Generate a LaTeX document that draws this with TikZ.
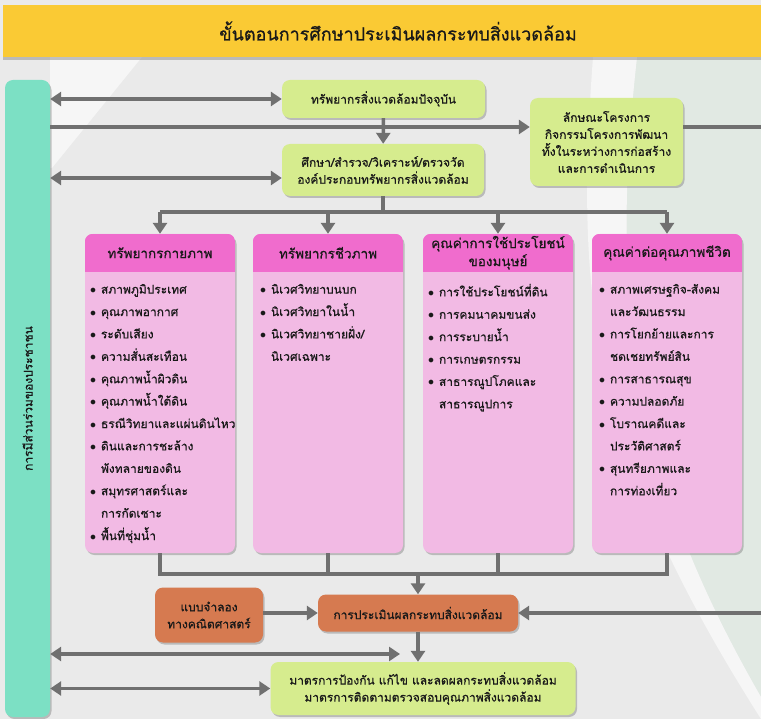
\documentclass[tikz,border=0pt]{standalone}
\usepackage{fontspec}
\setmainfont[Script=Thai,FakeBold=0.7]{Loma}
\usetikzlibrary{arrows.meta,shadows}

\definecolor{bggray}{RGB}{234,234,234}
\definecolor{bglight}{RGB}{246,246,246}
\definecolor{palemint}{RGB}{225,233,227}
\definecolor{titleyellow}{RGB}{250,202,52}
\definecolor{leafgreen}{RGB}{214,236,142}
\definecolor{clayorange}{RGB}{214,122,80}
\definecolor{headpink}{RGB}{240,108,205}
\definecolor{bodypink}{RGB}{242,186,228}
\definecolor{mint}{RGB}{124,224,196}
\definecolor{arrgray}{RGB}{112,112,112}
\definecolor{inkblack}{RGB}{25,25,25}

\newcommand{\bullt}{\makebox[11pt][l]{$\bullet$}}
\newcommand{\contd}{\hspace*{11pt}}

\begin{document}
\begin{tikzpicture}[x=1pt,y=-1pt,
  box/.style={rounded corners=8pt, align=center, text=inkblack, font=\fontsize{12}{17}\selectfont,
    drop shadow={shadow xshift=1.5pt,shadow yshift=-2pt,opacity=0.45}},
  greenbox/.style={box, fill=leafgreen},
  orangebox/.style={box, fill=clayorange},
  pinkbox/.style={box, fill=bodypink},
  ln/.style={draw=arrgray, line width=3.5pt},
  arr/.style={ln, -{Triangle[width=14pt,length=11pt]}},
  dbl/.style={ln, {Triangle[width=14pt,length=11pt]}-{Triangle[width=14pt,length=11pt]}},
  pinkhead/.style={font=\fontsize{13.5}{18}\selectfont, align=center, text=inkblack},
  list/.style={anchor=north west, inner sep=0pt, align=left, text=inkblack, font=\fontsize{12}{22.4}\selectfont}
]
\useasboundingbox (0,0) rectangle (761,719);
\fill[bggray] (0,0) rectangle (761,719);
\fill[bglight] (50,57) -- (142,57) -- (52,168) -- (50,168) -- cycle;
\fill[palemint] (637,57) .. controls (610,300) and (630,470) .. (761,697) -- (761,57) -- cycle;
\fill[bglight] (593,57) .. controls (575,300) and (590,450) .. (761,719) -- (761,697)
  .. controls (630,470) and (610,300) .. (637,57) -- cycle;

\node[fill=titleyellow, minimum width=758, minimum height=52,
  drop shadow={shadow xshift=0pt,shadow yshift=-3pt,opacity=0.45}] (titlebar) at (382,31) {};
\node[text=inkblack, font=\fontsize{18}{22}\selectfont] (title) at (398,31) {ขั้นตอนการศึกษาประเมินผลกระทบสิ่งแวดล้อม};

\node[box, fill=mint, minimum width=45, minimum height=637] (people) at (27.5,398.5) {};
\node[rotate=90, text=inkblack, font=\fontsize{12}{17}\selectfont] (peopleT) at (people.center) {การมีส่วนร่วมของประชาชน};

\node[greenbox, minimum width=203, minimum height=38] (res) at (383.5,99) {ทรัพยากรสิ่งแวดล้อมปัจจุบัน};
\node[greenbox, minimum width=202, minimum height=52] (study) at (383,170) {ศึกษา/สำรวจ/วิเคราะห์/ตรวจวัด\\องค์ประกอบทรัพยากรสิ่งแวดล้อม};
\node[greenbox, minimum width=153, minimum height=88] (proj) at (606.5,142) {ลักษณะโครงการ\\กิจกรรมโครงการพัฒนา\\ทั้งในระหว่างการก่อสร้าง\\และการดำเนินการ};

\node[pinkbox, minimum width=150, minimum height=319] (phys) at (160,393.5) {};
\node[pinkbox, minimum width=150, minimum height=319] (bio) at (328,393.5) {};
\node[pinkbox, minimum width=150, minimum height=319] (use) at (498,393.5) {};
\node[pinkbox, minimum width=150, minimum height=319] (qol) at (667,393.5) {};
\foreach \b in {phys,bio,use,qol}{
  \begin{scope}
    \clip[rounded corners=8pt] (\b.north west) rectangle (\b.south east);
    \fill[headpink] (\b.north west) rectangle ([yshift=-38pt]\b.north east);
  \end{scope}
}
\node[pinkhead] (physH) at ([yshift=-19pt]phys.north) {ทรัพยากรกายภาพ};
\node[pinkhead] (bioH) at ([yshift=-19pt]bio.north) {ทรัพยากรชีวภาพ};
\node[pinkhead] (useH) at ([yshift=-19pt]use.north) {คุณค่าการใช้ประโยชน์\\ของมนุษย์};
\node[pinkhead] (qolH) at ([yshift=-19pt]qol.north) {คุณค่าต่อคุณภาพชีวิต};

\node[list] (physL) at ([shift={(5pt,-50pt)}]phys.north west) {\bullt สภาพภูมิประเทศ\\ \bullt คุณภาพอากาศ\\ \bullt ระดับเสียง\\
  \bullt ความสั่นสะเทือน\\ \bullt คุณภาพน้ำผิวดิน\\ \bullt คุณภาพน้ำใต้ดิน\\ \bullt ธรณีวิทยาและแผ่นดินไหว\\
  \bullt ดินและการชะล้าง\\ \contd พังทลายของดิน\\ \bullt สมุทรศาสตร์และ\\ \contd การกัดเซาะ\\ \bullt พื้นที่ชุ่มน้ำ};
\node[list] (bioL) at ([shift={(7pt,-50pt)}]bio.north west) {\bullt นิเวศวิทยาบนบก\\ \bullt นิเวศวิทยาในน้ำ\\
  \bullt นิเวศวิทยาชายฝั่ง/\\ \contd นิเวศเฉพาะ};
\node[list] (useL) at ([shift={(5pt,-50pt)}]use.north west) {\bullt การใช้ประโยชน์ที่ดิน\\ \bullt การคมนาคมขนส่ง\\
  \bullt การระบายน้ำ\\ \bullt การเกษตรกรรม\\ \bullt สาธารณูปโภคและ\\ \contd สาธารณูปการ};
\node[list] (qolL) at ([shift={(7pt,-50pt)}]qol.north west) {\bullt สภาพเศรษฐกิจ-สังคม\\ \contd และวัฒนธรรม\\
  \bullt การโยกย้ายและการ\\ \contd ชดเชยทรัพย์สิน\\ \bullt การสาธารณสุข\\ \bullt ความปลอดภัย\\
  \bullt โบราณคดีและ\\ \contd ประวัติศาสตร์\\ \bullt สุนทรียภาพและ\\ \contd การท่องเที่ยว};

\node[orangebox, minimum width=108, minimum height=55] (model) at (209,615) {แบบจำลอง\\ทางคณิตศาสตร์};
\node[orangebox, minimum width=200, minimum height=37] (eia) at (418,613) {การประเมินผลกระทบสิ่งแวดล้อม};
\node[greenbox, minimum width=305, minimum height=53] (meas) at (423,688.5) {มาตรการป้องกัน แก้ไข และลดผลกระทบสิ่งแวดล้อม\\มาตรการติดตามตรวจสอบคุณภาพสิ่งแวดล้อม};

\coordinate (mid) at (383,127);
\coordinate (edgeT) at (761,127);
\coordinate (edgeB) at (761,613);
\coordinate (gap) at (400,654);

\draw[dbl] (people.east |- res.west) -- (res.west);
\draw[dbl] ([yshift=-8pt]people.east |- study.west) -- ([yshift=-8pt]study.west);
\draw[arr] (people.east |- mid) -- (mid -| proj.west);
\draw[ln] (proj.east |- edgeT) -- (edgeT);
\draw[arr] (res) -- (study);

\draw[ln] (study.south) -- ++(0,16) coordinate (bt);
\draw[ln] (phys.north |- bt) -- (qol.north |- bt);
\foreach \b in {phys,bio,use,qol}
  \draw[arr] (\b.north |- bt) -- (\b.north);

\coordinate (bb) at (0,574);
\draw[ln] (phys.south) |- (qol.south |- bb) -- (qol.south);
\draw[ln] (bio.south) -- (bio.south |- bb);
\draw[ln] (use.south) -- (use.south |- bb);
\draw[arr] (eia.north |- bb) -- (eia.north);

\draw[arr] (model.east |- eia.west) -- (eia.west);
\draw[arr] (edgeB) -- (eia.east);
\draw[arr] (eia.south) -- (eia.south |- meas.north);
\draw[dbl] (people.east |- gap) -- (gap);
\draw[dbl] (people.east |- meas.west) -- (meas.west);
\end{tikzpicture}
\end{document}
